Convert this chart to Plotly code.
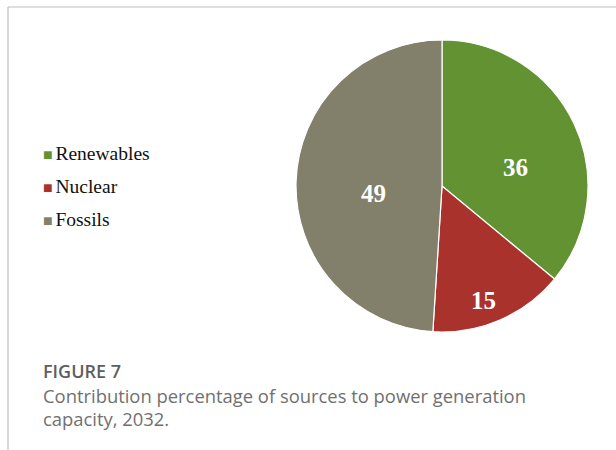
import plotly.graph_objects as go

# Share of power generation capacity by source, 2032 (%)
sources = ["Renewables", "Nuclear", "Fossils"]
shares = [36, 15, 49]
colors = ["#639233", "#A9322D", "#827F6A"]

W, H = 616, 450


def px_x(x):
    return x / W


def px_y(y):
    return 1 - y / H


fig = go.Figure()

# Pie centred at (442, 186) px with radius ~146 px
cx, cy, r = 442, 186, 146
fig.add_trace(go.Pie(
    labels=sources,
    values=shares,
    sort=False,
    direction="clockwise",
    rotation=0,
    marker=dict(colors=colors, line=dict(color="white", width=1.2)),
    textinfo="none",
    showlegend=False,
    hoverinfo="label+value",
    domain=dict(x=[px_x(cx - r), px_x(cx + r)], y=[px_y(cy + r), px_y(cy - r)]),
))

annotations = []

# Value labels inside the slices (pixel anchor of each label)
label_xy = [(515, 168), (483, 300), (373, 193)]
for val, (lx, ly) in zip(shares, label_xy):
    annotations.append(dict(
        x=px_x(lx), y=px_y(ly), xref="paper", yref="paper",
        xanchor="center", yanchor="middle", showarrow=False,
        text=str(val),
        font=dict(family="Liberation Serif", size=25, color="white", weight="bold"),
    ))

# Legend drawn as text entries with small square swatches
legend_y = [153, 186, 219]
for name, col, yy in zip(sources, colors, legend_y):
    annotations.append(dict(
        x=px_x(41), y=px_y(yy), xref="paper", yref="paper",
        xanchor="left", yanchor="middle", showarrow=False,
        text=(f"<span style='color:{col};font-size:16px'>■</span>"
              f"<span style='font-size:11px'> </span>{name}"),
        font=dict(family="Liberation Serif", size=19.5, color="#111111"),
    ))

# Figure caption
annotations.append(dict(
    x=px_x(41), y=px_y(371), xref="paper", yref="paper",
    xanchor="left", yanchor="middle", showarrow=False,
    text="FIGURE 7",
    font=dict(family="Open Sans", size=18, color="#5e5e5e", weight=600),
))
caption_lines = ["Contribution percentage of sources to power generation", "capacity, 2032."]
for line, yy in zip(caption_lines, [395, 418]):
    annotations.append(dict(
        x=px_x(41), y=px_y(yy), xref="paper", yref="paper",
        xanchor="left", yanchor="middle", showarrow=False,
        text=line,
        font=dict(family="Open Sans", size=18.4, color="#707070"),
    ))

# Frame lines along the top and left edges
shapes = [
    dict(type="line", xref="paper", yref="paper",
         x0=px_x(8), x1=1, y0=px_y(7), y1=px_y(7),
         line=dict(color="#bdbdbd", width=1.2)),
    dict(type="line", xref="paper", yref="paper",
         x0=px_x(8), x1=px_x(8), y0=px_y(7), y1=0,
         line=dict(color="#bdbdbd", width=1.2)),
]

fig.update_layout(
    width=W, height=H,
    margin=dict(l=0, r=0, t=0, b=0),
    paper_bgcolor="white",
    plot_bgcolor="white",
    annotations=annotations,
    shapes=shapes,
)

fig.write_html("out.html")
